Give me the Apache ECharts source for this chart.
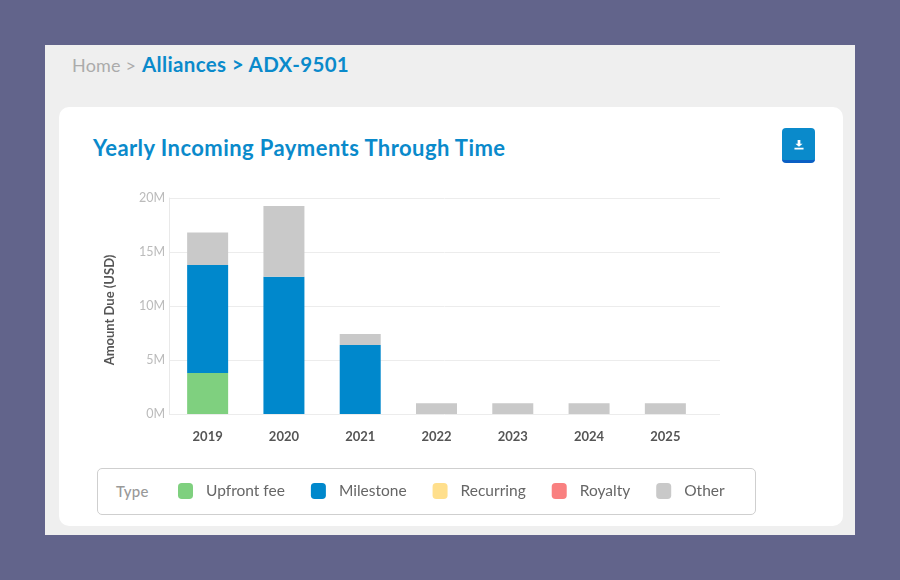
<!DOCTYPE html>
<html>
<head>
<meta charset="utf-8">
<script src="https://cdn.jsdelivr.net/npm/echarts@6/dist/echarts.min.js"></script>
<style>
  html, body { margin: 0; padding: 0; }
  body { width: 900px; height: 580px; background: #62648b; position: relative; overflow: hidden; font-family: Lato, sans-serif; }
  .panel { position: absolute; left: 45px; top: 45px; width: 810px; height: 490px; background: #efefef; }
  .crumb { position: absolute; left: 72px; top: 52px; font-size: 18px; line-height: 26px; letter-spacing: 0.2px; color: #ababab; white-space: nowrap; }
  .crumb b { position: absolute; left: 70px; top: -1px; font-size: 20.5px; font-weight: 700; letter-spacing: 0.35px; color: #0a8acb; }
  .card { position: absolute; left: 59px; top: 107px; width: 784px; height: 419px; background: #fff; border-radius: 10px; }
  .title { position: absolute; left: 93px; top: 133px; font-size: 22px; line-height: 30px; font-weight: 700; letter-spacing: 0.43px; color: #0a8acb; white-space: nowrap; }
  .btn { position: absolute; left: 782px; top: 128px; width: 33px; height: 32px; background: #0a8acb; border-bottom: 3px solid #0a5fc4; border-radius: 4px; }
  .btn svg { position: absolute; left: 12px; top: 12px; }
  .legendbox { position: absolute; left: 97px; top: 468px; width: 657px; height: 45px; border: 1px solid #cfcfcf; border-radius: 5px; }
  .legendbox span { position: absolute; left: 18px; top: 12px; font-size: 15px; line-height: 20px; font-weight: 500; letter-spacing: 0.2px; color: #999; }
  #chart { position: absolute; left: 0; top: 0; width: 900px; height: 580px; }
</style>
</head>
<body>
<div class="panel"></div>
<div class="crumb">Home &gt;<b>Alliances &gt; ADX-9501</b></div>
<div class="card"></div>
<div class="title">Yearly Incoming Payments Through Time</div>
<div class="btn">
  <svg width="10" height="10" viewBox="0 0 11 11"><path d="M4 0h3v4h2.500L5.500 7.500 1.500 4H4zM0.500 8.500h10V10.500h-10z" fill="#fff"/></svg>
</div>
<div class="legendbox"><span>Type</span></div>
<div id="chart"></div>
<script>
var years = ['2019', '2020', '2021', '2022', '2023', '2024', '2025']
var upfrontFee = [3.8, 0, 0, 0, 0, 0, 0]
var milestone = [10.0, 12.7, 6.4, 0, 0, 0, 0]
var recurring = [0, 0, 0, 0, 0, 0, 0]
var royalty = [0, 0, 0, 0, 0, 0, 0]
var other = [3.0, 6.55, 1.0, 1.0, 1.0, 1.0, 1.0]
var typeNames = ['Upfront fee', 'Milestone', 'Recurring', 'Royalty', 'Other']
var typeColors = ['#7fd07f', '#0088cc', '#ffdf8c', '#f98080', '#c9c9c9']
var typeValues = [upfrontFee, milestone, recurring, royalty, other]

var chart = echarts.init(document.getElementById('chart'))
chart.setOption({
  animation: false,
  backgroundColor: 'transparent',
  textStyle: { fontFamily: 'Lato' },
  legend: {
    left: 178,
    top: 483,
    padding: 0,
    itemWidth: 15,
    itemHeight: 16,
    itemGap: 26,
    icon: 'roundRect',
    data: typeNames,
    textStyle: { fontFamily: 'Lato', fontSize: 15.5, color: '#666', padding: [0, 0, 0, 8] }
  },
  // the gridlines run further right than the bars do, so they get their own grid
  grid: [
    { left: 169, top: 198, width: 551, height: 216 },
    { left: 169.5, top: 198, width: 534, height: 216 }
  ],
  xAxis: [
    { type: 'category', gridIndex: 0, data: years, show: false },
    {
      type: 'category',
      gridIndex: 1,
      data: years,
      axisLine: { show: false },
      axisTick: { show: false },
      axisLabel: { color: '#555', fontSize: 13, fontWeight: 'bold', margin: 16 }
    }
  ],
  yAxis: [
    {
      type: 'value',
      gridIndex: 0,
      min: 0,
      max: 20,
      interval: 5,
      name: 'Amount Due (USD)',
      nameLocation: 'middle',
      nameGap: 53,
      nameRotate: 90,
      nameTextStyle: { color: '#555', fontSize: 13, fontWeight: 'bold', padding: [0, 8, 0, 0] },
      axisLine: { show: true, lineStyle: { color: '#e9e9e9' } },
      axisTick: { show: false },
      axisLabel: { color: '#bbb', fontSize: 12.5, margin: 4, formatter: '{value}M', padding: [2, 0, 0, 0] },
      splitLine: { lineStyle: { color: '#ececec' } }
    },
    { type: 'value', gridIndex: 1, min: 0, max: 20, interval: 5, show: false, splitLine: { show: false } }
  ],
  series: typeNames.map(function(name, i) {
    return {
      name: name,
      type: 'bar',
      stack: 'type',
      xAxisIndex: 1,
      yAxisIndex: 1,
      barWidth: 41,
      itemStyle: { color: typeColors[i] },
      data: typeValues[i]
    }
  })
})
</script>
</body>
</html>
